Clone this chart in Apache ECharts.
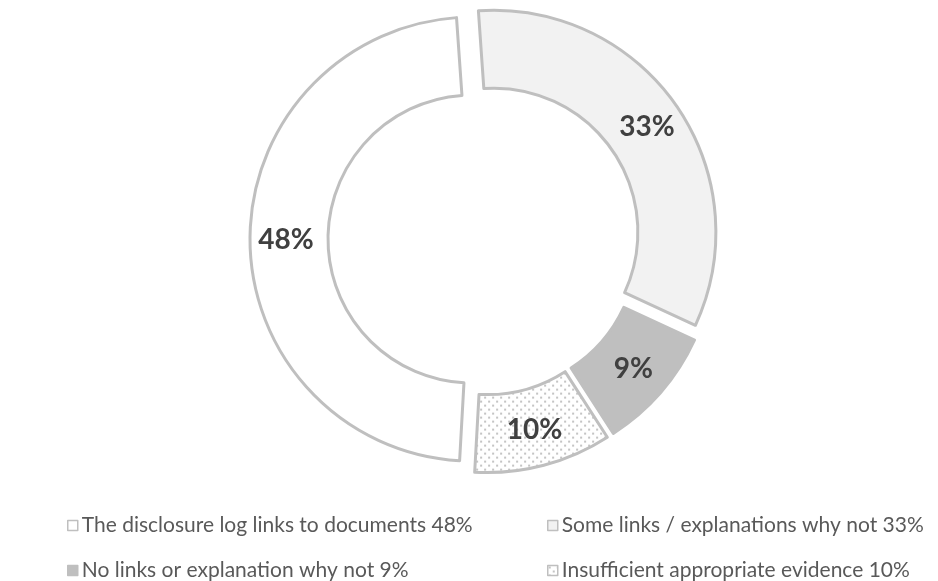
<!DOCTYPE html>
<html>
<head>
<meta charset="utf-8">
<script src="https://cdn.jsdelivr.net/npm/echarts@6/dist/echarts.min.js"></script>
<style>
  html, body { margin: 0; padding: 0; background: #ffffff; }
  #chart { width: 938px; height: 581px; }
</style>
</head>
<body>
<div id="chart"></div>
<script>
// Disclosure log link categories and their shares (%)
const categories = [
  'The disclosure log links to documents',
  'Some links / explanations why not',
  'No links or explanation why not',
  'Insufficient appropriate evidence'
];
const shares = [48, 33, 9, 10];

// Small dotted tile used as the fill of the last category
function dotPattern() {
  const c = document.createElement('canvas');
  c.width = 8; c.height = 8;
  const g = c.getContext('2d');
  g.fillStyle = '#ffffff';
  g.fillRect(0, 0, 8, 8);
  g.fillStyle = '#c4c4c4';
  g.fillRect(1, 1, 2, 2);
  g.fillRect(5, 5, 2, 2);
  return { image: c, repeat: 'repeat' };
}

const edge = '#bfbfbf';
const fills = ['#ffffff', '#f2f2f2', '#bfbfbf', dotPattern()];

const names = categories.map((c, i) => c + ' ' + shares[i] + '%');

const data = shares.map((v, i) => ({
  name: names[i],
  value: v,
  selected: true,
  itemStyle: { color: fills[i], borderColor: edge, borderWidth: 3 },
  select: { itemStyle: { color: fills[i], borderColor: edge, borderWidth: 3 } }
}));

const font = 'Lato, "Open Sans", sans-serif';

// One legend block per entry, laid out as a two-column grid
const legendPos = [
  { left: 62, top: 510 },
  { left: 542, top: 510 },
  { left: 62, top: 555 },
  { left: 542, top: 555 }
];
const legends = names.map((n, i) => ({
  data: [n],
  left: legendPos[i].left,
  top: legendPos[i].top,
  itemWidth: 10,
  itemHeight: 10,
  itemGap: 0,
  selectedMode: false,
  icon: 'rect',
  itemStyle: { borderColor: edge, borderWidth: 1.5 },
  textStyle: { color: '#595959', fontSize: 21, fontFamily: font, padding: [0, 0, 0, -1] }
}));

const chart = echarts.init(document.getElementById('chart'), null, { renderer: 'canvas' });
chart.setOption({
  animation: false,
  backgroundColor: '#ffffff',
  legend: legends,
  series: [{
    type: 'pie',
    center: [484, 239],
    radius: [144, 222],
    startAngle: 266.8,
    clockwise: true,
    selectedMode: 'multiple',
    selectedOffset: 12,
    avoidLabelOverlap: false,
    emphasis: { disabled: true },
    label: {
      show: true,
      position: 'inside',
      formatter: p => shares[p.dataIndex] + '%',
      color: '#404040',
      fontSize: 28,
      fontWeight: 'bold',
      fontFamily: font
    },
    labelLine: { show: false },
    data: data
  }]
});
</script>
</body>
</html>
